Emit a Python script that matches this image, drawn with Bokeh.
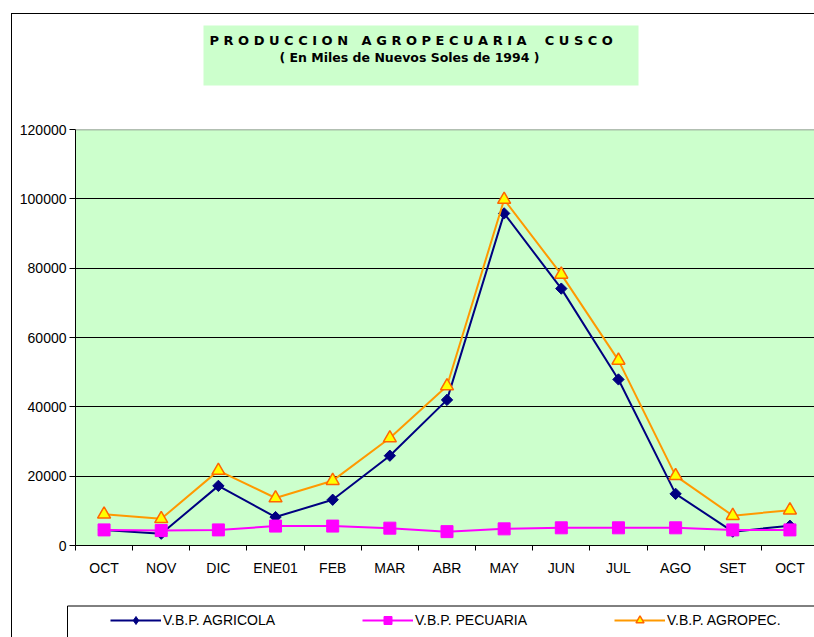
import numpy as np
from bokeh.plotting import figure
from bokeh.layouts import column
from bokeh.models import (FixedTicker, NumeralTickFormatter, Legend, LegendItem,
                          Label, Span, Range1d)
from bokeh.embed import file_html
from bokeh.resources import INLINE

# ---- data ----
months = ["OCT", "NOV", "DIC", "ENE01", "FEB", "MAR", "ABR", "MAY", "JUN", "JUL", "AGO", "SET", "OCT"]
agricola = [4500, 3400, 17200, 8200, 13200, 25900, 42000, 95800, 74100, 47900, 14900, 4000, 5700]
pecuaria = [4500, 4300, 4500, 5600, 5600, 5000, 4000, 4800, 5100, 5100, 5100, 4500, 4500]
agropec = [9000, 7700, 21600, 13700, 18700, 31000, 46000, 99800, 78200, 53400, 20100, 8600, 10200]
y_ticks = [0, 20000, 40000, 60000, 80000, 100000, 120000]
title_1 = "P R O D U C C I O N \u00a0\u00a0A G R O P E C U A R I A \u00a0\u00a0\u00a0C U S C O"
title_2 = "( En Miles de Nuevos Soles de 1994 )"
series_names = ["V.B.P. AGRICOLA", "V.B.P. PECUARIA", "V.B.P. AGROPEC."]

xs = list(range(len(months)))

AGR = dict(line_color="#000080")
PEC = dict(line_color="#FF00FF")
TOT = dict(line_color="#FF9900")
DIA = dict(marker="square", angle=np.pi / 4, size=8, fill_color="#000080", line_color="#000080")
DIA_LEG = dict(marker="diamond", size=8, fill_color="#000080", line_color="#000080")
SQ = dict(marker="square", size=12, fill_color="#FF00FF", line_color="#FF00FF")
TRI = dict(marker="triangle", size=13, fill_color="#FFFF00", line_color="#FF6600", line_width=1.5)

W = 802  # inner width (page x 12..814)


def bare(fig):
    fig.xaxis.visible = False
    fig.yaxis.visible = False
    fig.xgrid.visible = False
    fig.ygrid.visible = False
    fig.outline_line_color = None
    fig.background_fill_color = "white"
    fig.border_fill_color = "white"


# ---------------- title area (page y 14..115) ----------------
pt = figure(width=W, height=101, output_backend="svg", toolbar_location=None,
            x_range=Range1d(12, 814), y_range=Range1d(115, 14), frame_align=False,
            min_border_left=0, min_border_right=0, min_border_top=0, min_border_bottom=0)
bare(pt)
pt.quad(left=[203], right=[638], top=[25], bottom=[85], fill_color="#CCFFCC", line_color=None)
pt.add_layout(Label(x=209, y=39.5, text=title_1, text_align="left", text_baseline="middle",
                    text_font="DejaVu Sans", text_font_style="bold", text_font_size="13px",
                    text_color="black"))
pt.add_layout(Label(x=409, y=56.5, text=title_2, text_align="center", text_baseline="middle",
                    text_font="DejaVu Sans", text_font_style="bold", text_font_size="12.5px",
                    text_color="black"))

# ---------------- main chart (page y 115..600) ----------------
p = figure(width=W, height=485, output_backend="svg", toolbar_location=None,
           x_range=Range1d(-0.5, 12.43), y_range=Range1d(0, 120000), frame_align=False,
           min_border_left=63, min_border_right=0, min_border_top=14, min_border_bottom=55)

p.background_fill_color = "#CCFFCC"
p.border_fill_color = "white"
p.outline_line_color = None

p.xgrid.grid_line_color = None
p.ygrid.ticker = FixedTicker(ticks=y_ticks[1:-1])
p.ygrid.grid_line_color = "black"
p.ygrid.grid_line_width = 1
p.add_layout(Span(location=120000, dimension="width", line_color="#808080", line_width=1.5))

xa = p.xaxis[0]
xa.ticker = FixedTicker(ticks=xs, minor_ticks=[i - 0.5 for i in range(len(months) + 1)])
xa.major_label_overrides = {i: m for i, m in enumerate(months)}
xa.major_tick_line_color = None
xa.major_tick_out = 0
xa.major_tick_in = 0
xa.minor_tick_line_color = "black"
xa.minor_tick_out = 5
xa.minor_tick_in = 0
xa.major_label_standoff = 9
xa.axis_line_color = "black"
xa.major_label_text_font = "Liberation Sans"
xa.major_label_text_font_size = "14px"
xa.major_label_text_color = "black"

ya = p.yaxis[0]
ya.ticker = FixedTicker(ticks=y_ticks)
ya.formatter = NumeralTickFormatter(format="0")
ya.major_tick_out = 6
ya.major_tick_in = 0
ya.minor_tick_line_color = None
ya.major_label_standoff = 3
ya.axis_line_color = "black"
ya.major_label_text_font = "Liberation Sans"
ya.major_label_text_font_size = "14px"
ya.major_label_text_color = "black"

p.line(xs, agricola, line_width=2, **AGR)
p.scatter(xs, agricola, **DIA)
p.line(xs, pecuaria, line_width=2, **PEC)
p.scatter(xs, pecuaria, **SQ)
p.line(xs, agropec, line_width=2, **TOT)
p.scatter(xs, agropec, **TRI)

# ---------------- legend area (page y 600..637) ----------------
pl = figure(width=W, height=37, output_backend="svg", toolbar_location=None,
            x_range=Range1d(12, 814), y_range=Range1d(637, 600), frame_align=False,
            min_border_left=0, min_border_right=0, min_border_top=0, min_border_bottom=0)
bare(pl)
pl.quad(left=[67], right=[900], top=[605.5], bottom=[700], fill_color=None,
        line_color="black", line_width=1)

off = dict(x=[-1000], y=[-1000])  # legend-only renderers, drawn outside the view
la = pl.line(line_width=2, **off, **AGR)
sa = pl.scatter(**off, **DIA_LEG)
lp = pl.line(line_width=2, **off, **PEC)
sp = pl.scatter(**off, **SQ)
lt = pl.line(line_width=2, **off, **TOT)
st = pl.scatter(**off, **TRI)

legend = Legend(items=[LegendItem(label=series_names[0], renderers=[la, sa]),
                       LegendItem(label=series_names[1], renderers=[lp, sp]),
                       LegendItem(label=series_names[2], renderers=[lt, st])],
                orientation="horizontal", location=(98, 7),
                glyph_width=51, glyph_height=20, label_standoff=2, label_width=199,
                label_height=20, spacing=0, padding=0, margin=0,
                border_line_color=None, background_fill_alpha=0,
                label_text_font="Liberation Sans", label_text_font_size="14px",
                label_text_color="black")
pl.add_layout(legend)

layout = column(pt, p, pl, spacing=0, margin=(13, 0, 0, 11),
                styles={"border-left": "1px solid black", "border-top": "1px solid black"})

open("out.html", "w").write(file_html(layout, INLINE))
